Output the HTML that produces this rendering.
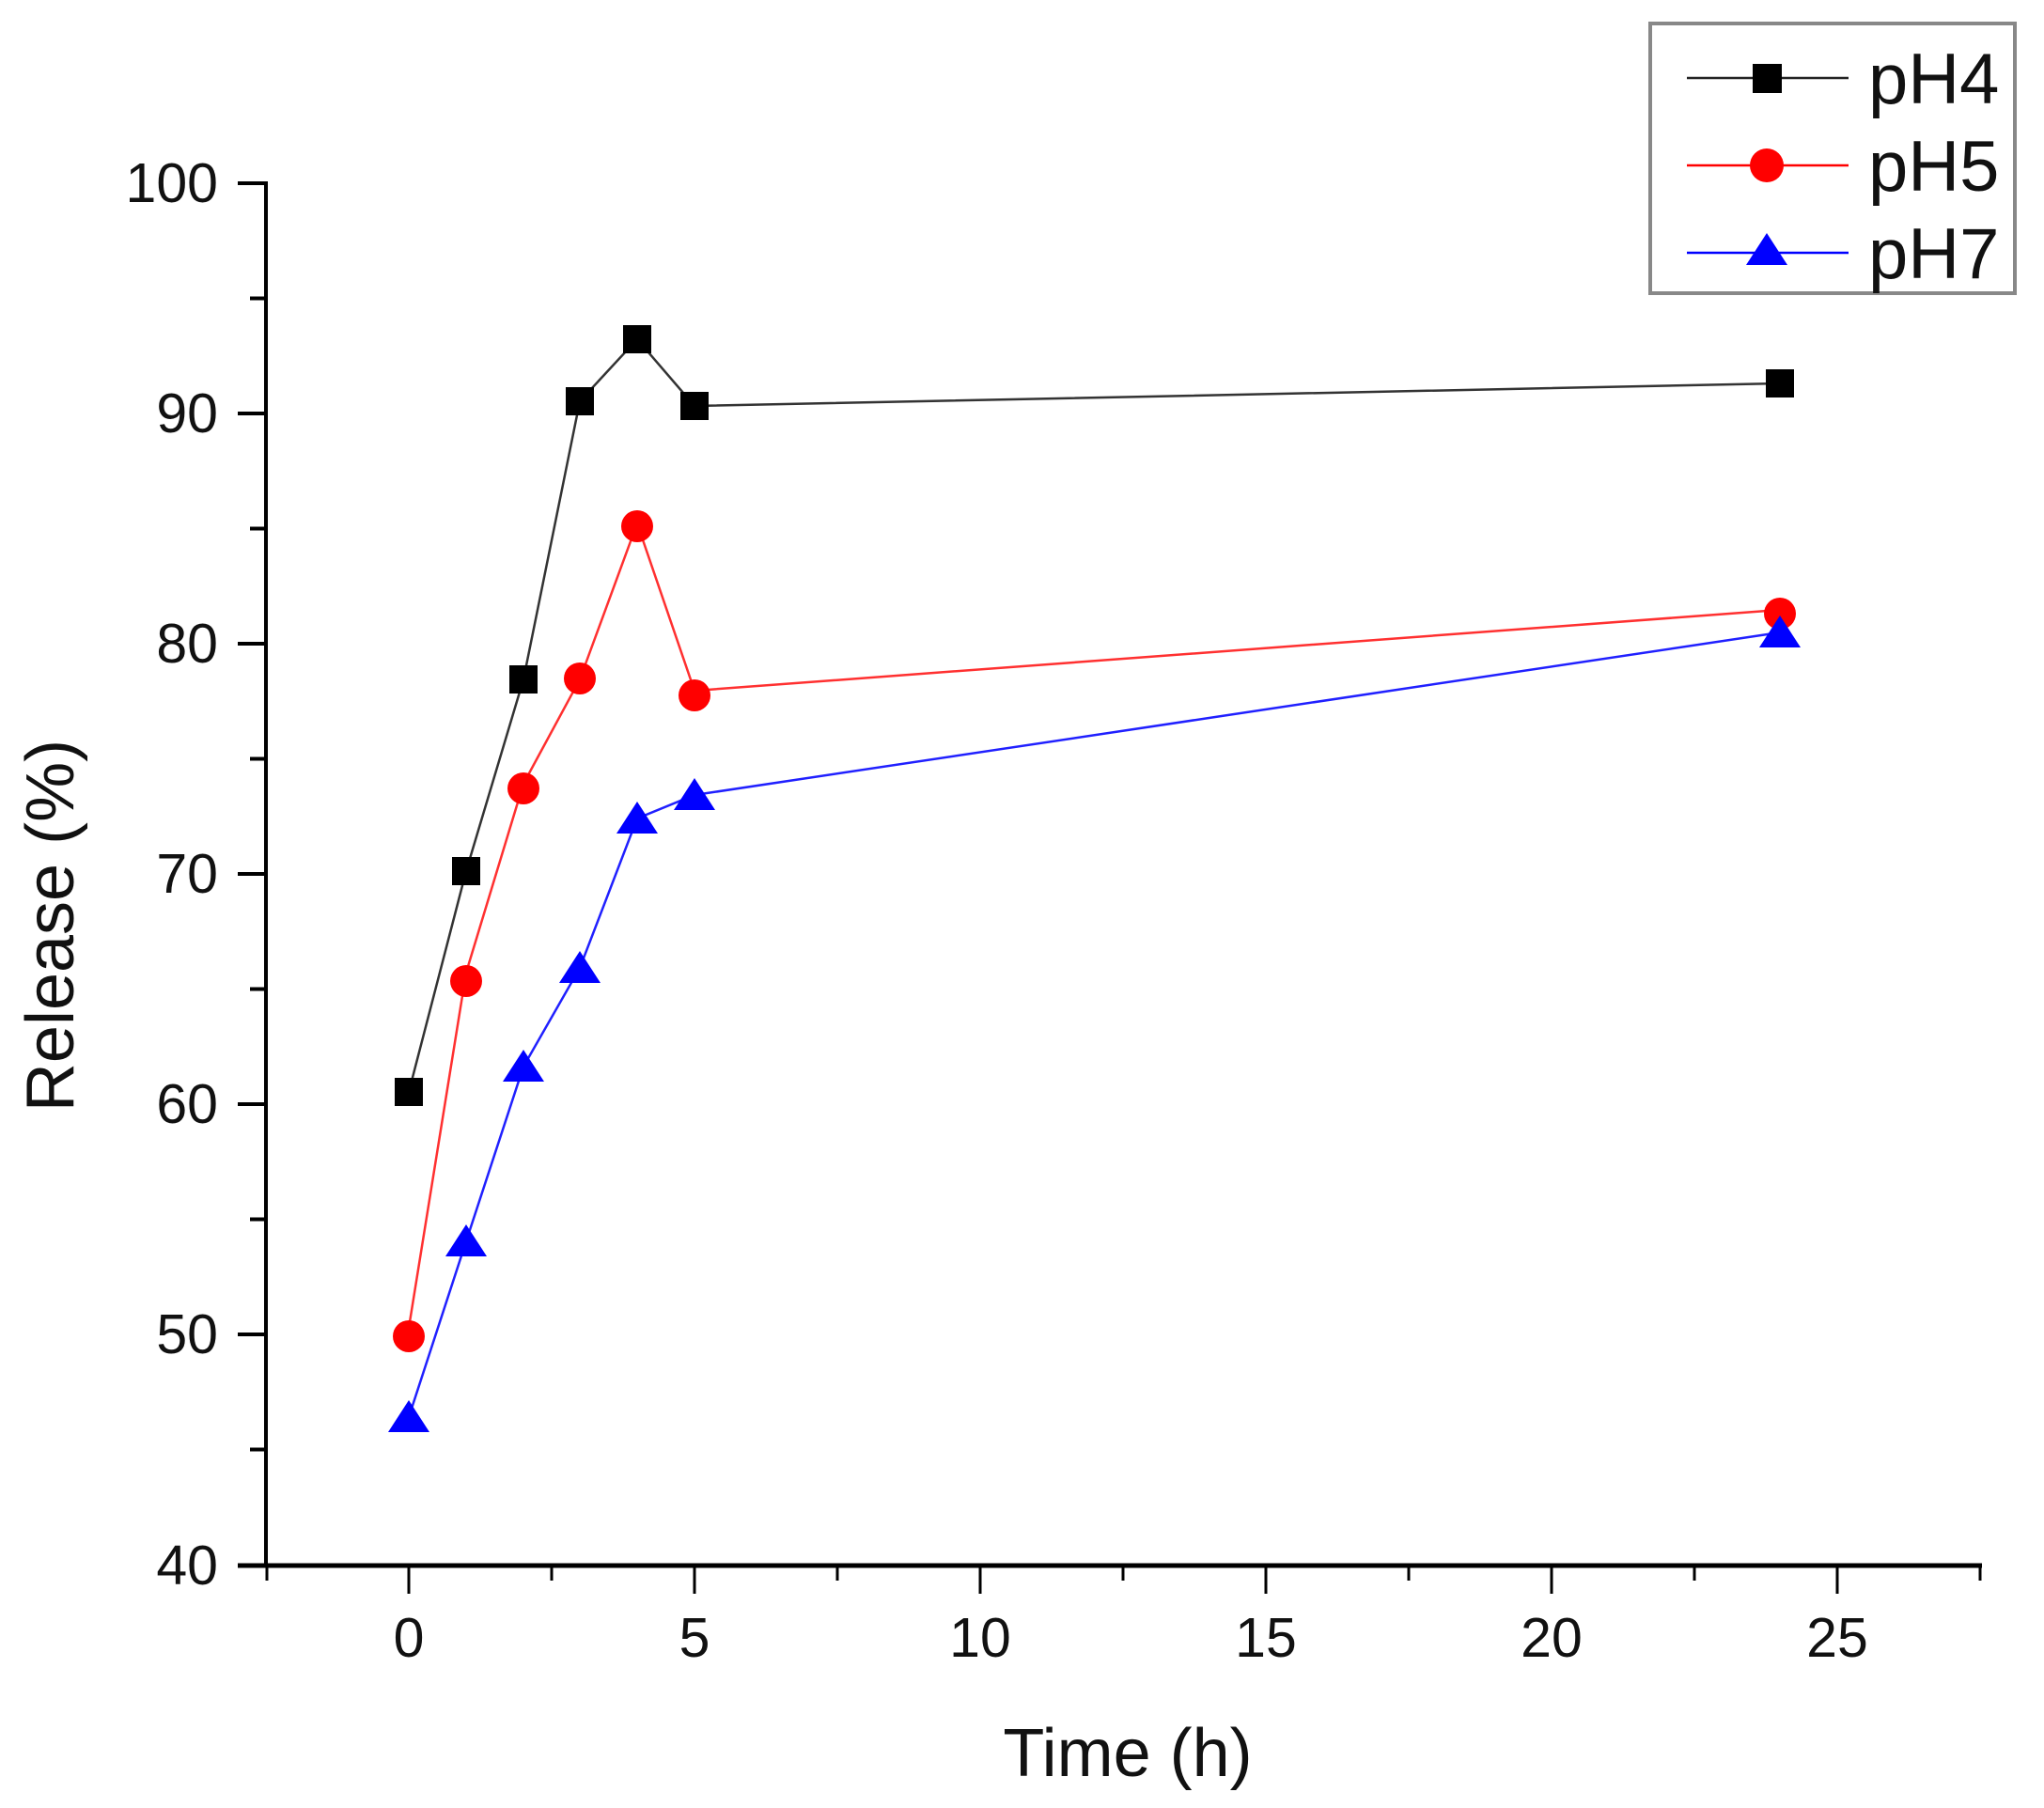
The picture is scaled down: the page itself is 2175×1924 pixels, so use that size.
<!DOCTYPE html>
<html><head><meta charset="utf-8"><style>
html,body{margin:0;padding:0;background:#fff}
svg{display:block}
text{font-family:"Liberation Sans",Arial,sans-serif;fill:#111}
</style></head><body>
<svg width="2175" height="1924" viewBox="0 0 2175 1924" xmlns="http://www.w3.org/2000/svg">
<rect width="2175" height="1924" fill="#fff"/>
<line x1="283" y1="193" x2="283" y2="1668" stroke="#000" stroke-width="4"/>
<line x1="253" y1="1666" x2="2109" y2="1666" stroke="#000" stroke-width="5"/>
<g stroke="#000" stroke-width="4">
<line x1="253" y1="195" x2="283" y2="195"/>
<line x1="266" y1="317.5" x2="283" y2="317.5"/>
<line x1="253" y1="440" x2="283" y2="440"/>
<line x1="266" y1="562.5" x2="283" y2="562.5"/>
<line x1="253" y1="685" x2="283" y2="685"/>
<line x1="266" y1="807.5" x2="283" y2="807.5"/>
<line x1="253" y1="930" x2="283" y2="930"/>
<line x1="266" y1="1052.5" x2="283" y2="1052.5"/>
<line x1="253" y1="1175" x2="283" y2="1175"/>
<line x1="266" y1="1297.5" x2="283" y2="1297.5"/>
<line x1="253" y1="1420" x2="283" y2="1420"/>
<line x1="266" y1="1542.5" x2="283" y2="1542.5"/>
</g>
<g stroke="#000" stroke-width="3">
<line x1="284" y1="1666" x2="284" y2="1682"/>
<line x1="435" y1="1666" x2="435" y2="1696"/>
<line x1="587" y1="1666" x2="587" y2="1682"/>
<line x1="739" y1="1666" x2="739" y2="1696"/>
<line x1="891" y1="1666" x2="891" y2="1682"/>
<line x1="1043" y1="1666" x2="1043" y2="1696"/>
<line x1="1195" y1="1666" x2="1195" y2="1682"/>
<line x1="1347" y1="1666" x2="1347" y2="1696"/>
<line x1="1499" y1="1666" x2="1499" y2="1682"/>
<line x1="1651" y1="1666" x2="1651" y2="1696"/>
<line x1="1803" y1="1666" x2="1803" y2="1682"/>
<line x1="1955" y1="1666" x2="1955" y2="1696"/>
<line x1="2107" y1="1666" x2="2107" y2="1682"/>
</g>
<g font-size="59" text-anchor="end">
<text x="232" y="215">100</text>
<text x="232" y="460">90</text>
<text x="232" y="705">80</text>
<text x="232" y="950">70</text>
<text x="232" y="1195">60</text>
<text x="232" y="1440">50</text>
<text x="232" y="1686">40</text>
</g>
<g font-size="59" text-anchor="middle">
<text x="435" y="1763">0</text>
<text x="739" y="1763">5</text>
<text x="1043" y="1763">10</text>
<text x="1347" y="1763">15</text>
<text x="1651" y="1763">20</text>
<text x="1955" y="1763">25</text>
</g>
<text x="1200" y="1890" font-size="72" text-anchor="middle">Time (h)</text>
<text transform="translate(78,985) rotate(-90)" font-size="72" text-anchor="middle">Release (%)</text>
<polyline fill="none" stroke="#333" stroke-width="2.5" points="435,1162 496,927 557,723 617,427 678,361 739,432 1894,408"/>
<polyline fill="none" stroke="#ff3030" stroke-width="2.5" points="435,1413 496,1035 557,834 617,723 678,557 739,735 1894,649"/>
<polyline fill="none" stroke="#2020ff" stroke-width="2.5" points="435,1508 496,1321 557,1135 617,1030 678,871 739,846 1894,673"/>
<g fill="#000">
<rect x="420" y="1147" width="30" height="30"/>
<rect x="481" y="912" width="30" height="30"/>
<rect x="542" y="708" width="30" height="30"/>
<rect x="602" y="412" width="30" height="30"/>
<rect x="663" y="346" width="30" height="30"/>
<rect x="724" y="417" width="30" height="30"/>
<rect x="1879" y="393" width="30" height="30"/>
</g>
<g fill="#ff0000">
<circle cx="435" cy="1422" r="17"/>
<circle cx="496" cy="1044" r="17"/>
<circle cx="557" cy="839" r="17"/>
<circle cx="617" cy="722" r="17"/>
<circle cx="678" cy="560" r="17"/>
<circle cx="739" cy="740" r="17"/>
<circle cx="1894" cy="653" r="17"/>
</g>
<g fill="#0000ff">
<polygon points="435,1490 457,1524 413,1524"/>
<polygon points="496,1303 518,1337 474,1337"/>
<polygon points="557,1117 579,1151 535,1151"/>
<polygon points="617,1012 639,1046 595,1046"/>
<polygon points="678,853 700,887 656,887"/>
<polygon points="739,828 761,862 717,862"/>
<polygon points="1894,655 1916,689 1872,689"/>
</g>
<rect x="1756" y="25" width="388" height="287" fill="#fff" stroke="#888" stroke-width="4"/>
<line x1="1795" y1="83" x2="1967" y2="83" stroke="#222" stroke-width="2.5"/>
<rect x="1865" y="68" width="31" height="31" fill="#000"/>
<line x1="1795" y1="176" x2="1967" y2="176" stroke="#ff0000" stroke-width="2.5"/>
<circle cx="1880" cy="176" r="18" fill="#ff0000"/>
<line x1="1795" y1="269" x2="1967" y2="269" stroke="#0000ff" stroke-width="2.5"/>
<polygon points="1880,248 1902,282 1858,282" fill="#0000ff"/>
<g font-size="76">
<text x="1988" y="110">pH4</text>
<text x="1988" y="203">pH5</text>
<text x="1988" y="296">pH7</text>
</g>
</svg>
</body></html>
